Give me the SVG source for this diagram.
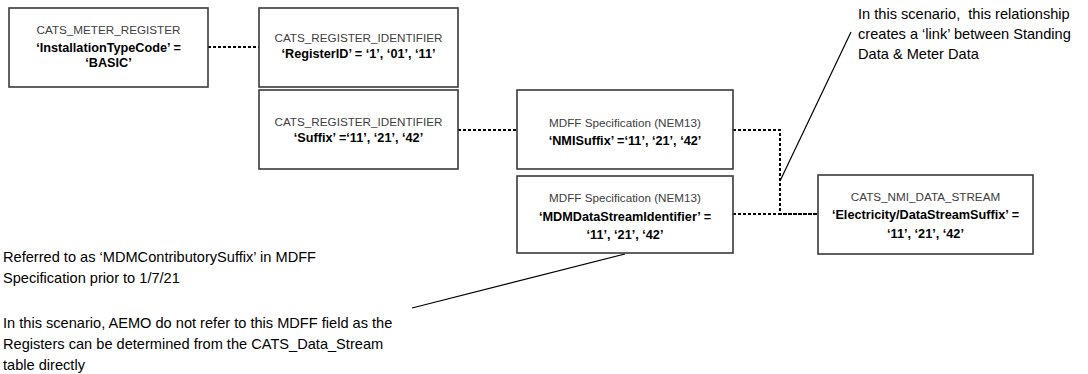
<svg xmlns="http://www.w3.org/2000/svg" width="1088" height="374" viewBox="0 0 1088 374">
<style>
.box{fill:#fff;stroke:#3a3a3a;stroke-width:1.6}
.t{font-family:"Liberation Sans",Arial,sans-serif;font-size:11.7px;fill:#404040;text-anchor:middle}
.b{font-family:"Liberation Sans",Arial,sans-serif;font-size:12.7px;font-weight:bold;fill:#000;text-anchor:middle}
.n{font-family:"Liberation Sans",Arial,sans-serif;font-size:14.6px;fill:#000}
.dot{fill:none;stroke:#000;stroke-width:2;stroke-dasharray:3 2}
.ann{fill:none;stroke:#000;stroke-width:1.2}
</style>
<rect width="1088" height="374" fill="#fff"/>
<g id="connectors">
<path class="dot" d="M208,47 H259"/>
<path class="dot" d="M458,130 H517"/>
<path class="dot" d="M733,130 H780 V214 H818"/>
<path class="dot" d="M733,214 H818"/>
<path class="ann" d="M780,181 L851,32"/>
<path class="ann" d="M625,254 L412,308"/>
</g>
<g id="cats_meter_register">
<rect class="box" x="9" y="8" width="199" height="79"/>
<text class="t" x="108.5" y="34">CATS_METER_REGISTER</text>
<text class="b" x="108.5" y="52">‘InstallationTypeCode’ =</text>
<text class="b" x="108.5" y="67">‘BASIC’</text>
</g>
<g id="cats_register_identifier_1">
<rect class="box" x="259" y="8" width="199" height="79"/>
<text class="t" x="358.5" y="42">CATS_REGISTER_IDENTIFIER</text>
<text class="b" x="358.5" y="58">‘RegisterID’ = ‘1’, ‘01’, ‘11’</text>
</g>
<g id="cats_register_identifier_2">
<rect class="box" x="259" y="90" width="199" height="79"/>
<text class="t" x="358.5" y="126">CATS_REGISTER_IDENTIFIER</text>
<text class="b" x="358.5" y="142">‘Suffix’ =‘11’, ‘21’, ‘42’</text>
</g>
<g id="mdff_nmisuffix">
<rect class="box" x="517" y="90" width="216" height="79"/>
<text class="t" x="625" y="127">MDFF Specification (NEM13)</text>
<text class="b" x="625" y="145">‘NMISuffix’ =‘11’, ‘21’, ‘42’</text>
</g>
<g id="mdff_datastream">
<rect class="box" x="517" y="176" width="216" height="77"/>
<text class="t" x="625" y="202">MDFF Specification (NEM13)</text>
<text class="b" x="625" y="221">‘MDMDataStreamIdentifier’ =</text>
<text class="b" x="625" y="239">‘11’, ‘21’, ‘42’</text>
</g>
<g id="cats_nmi_data_stream">
<rect class="box" x="818" y="175" width="215" height="79"/>
<text class="t" x="925.5" y="201">CATS_NMI_DATA_STREAM</text>
<text class="b" x="925.5" y="219">‘Electricity/DataStreamSuffix’ =</text>
<text class="b" x="925.5" y="238">‘11’, ‘21’, ‘42’</text>
</g>
<g id="note_link">
<text class="n" x="858" y="19" xml:space="preserve">In this scenario,  this relationship</text>
<text class="n" x="858" y="39">creates a ‘link’ between Standing</text>
<text class="n" x="858" y="59">Data &amp; Meter Data</text>
</g>
<g id="note_mdff">
<text class="n" x="3" y="262">Referred to as ‘MDMContributorySuffix’ in MDFF</text>
<text class="n" x="3" y="283">Specification prior to 1/7/21</text>
<text class="n" x="3" y="328">In this scenario, AEMO do not refer to this MDFF field as the</text>
<text class="n" x="3" y="349">Registers can be determined from the CATS_Data_Stream</text>
<text class="n" x="3" y="370">table directly</text>
</g>
</svg>
